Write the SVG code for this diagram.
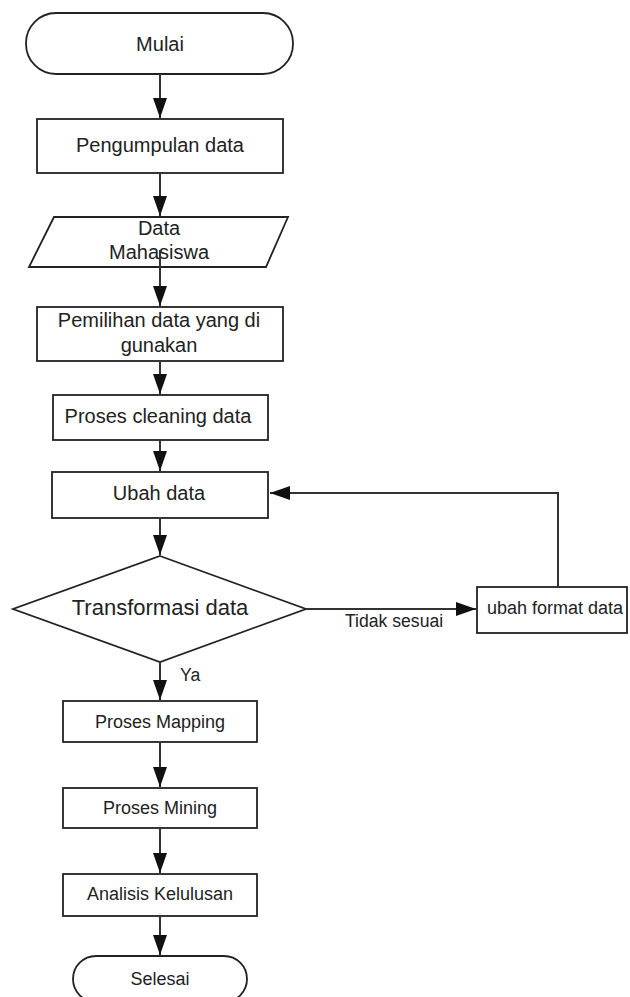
<svg xmlns="http://www.w3.org/2000/svg" width="630" height="997" viewBox="0 0 630 997">
<defs>
<marker id="ah" markerUnits="userSpaceOnUse" markerWidth="20" markerHeight="14" refX="20" refY="7" orient="auto">
<path d="M0,0 L20,7 L0,14 z" fill="#111"/>
</marker>
<style>
.s{fill:#fff;stroke:#222;stroke-width:1.8}
.c{fill:none;stroke:#333;stroke-width:2;marker-end:url(#ah)}
text{font-family:"Liberation Sans",Arial,sans-serif;fill:#222;text-anchor:middle}
.a{font-size:20px}
.b{font-size:18px}
.t{font-size:22px}
.l{font-size:17.6px;text-anchor:start}
</style>
</defs>
<rect width="630" height="997" fill="#fff"/>
<g id="mulai"><rect class="s" x="26" y="13" width="267" height="61" rx="30" ry="30"/><text class="a" x="160" y="51">Mulai</text></g>
<g id="pengumpulan"><rect class="s" x="37" y="119" width="246" height="54"/><text class="a" x="160" y="152">Pengumpulan data</text></g>
<g id="data-mahasiswa"><polygon class="s" points="54,217 288,217 266,267 29,267"/><text class="a" x="159" y="235">Data</text><text class="a" x="159" y="259">Mahasiswa</text></g>
<g id="pemilihan"><rect class="s" x="37" y="307" width="246" height="54"/><text class="a" x="159" y="327">Pemilihan data yang di</text><text class="a" x="159" y="352">gunakan</text></g>
<g id="cleaning"><rect class="s" x="53" y="395" width="215" height="45"/><text class="a" x="158" y="423">Proses cleaning data</text></g>
<g id="ubah-data"><rect class="s" x="52" y="472" width="216" height="46"/><text class="a" x="159" y="500">Ubah data</text></g>
<g id="transformasi"><polygon class="s" points="160,556 306,609 160,662 13,609"/><text class="t" x="160" y="615">Transformasi data</text></g>
<g id="ubah-format"><rect class="s" x="477" y="587" width="150" height="46"/><text class="b" x="555" y="614">ubah format data</text></g>
<g id="mapping"><rect class="s" x="63" y="701" width="194" height="41"/><text class="b" x="160" y="728">Proses Mapping</text></g>
<g id="mining"><rect class="s" x="63" y="788" width="194" height="40"/><text class="b" x="160" y="814">Proses Mining</text></g>
<g id="analisis"><rect class="s" x="63" y="874" width="194" height="42"/><text class="b" x="160" y="900">Analisis Kelulusan</text></g>
<g id="selesai"><rect class="s" x="73" y="956" width="174" height="46" rx="23" ry="23"/><text class="b" x="160" y="985">Selesai</text></g>
<g id="connectors">
<line class="c" x1="160" y1="74" x2="160" y2="118"/>
<line class="c" x1="160" y1="173" x2="160" y2="216"/>
<line class="c" x1="160" y1="250" x2="160" y2="306"/>
<line class="c" x1="160" y1="361" x2="160" y2="394"/>
<line class="c" x1="160" y1="440" x2="160" y2="471"/>
<line class="c" x1="160" y1="518" x2="160" y2="555"/>
<line class="c" x1="160" y1="662" x2="160" y2="700"/>
<line class="c" x1="160" y1="742" x2="160" y2="787"/>
<line class="c" x1="160" y1="828" x2="160" y2="873"/>
<line class="c" x1="160" y1="916" x2="160" y2="955"/>
<line class="c" x1="306" y1="609" x2="476" y2="609"/>
<polyline class="c" points="558,587 558,493 270,493"/>
<text class="l" x="345" y="627">Tidak sesuai</text>
<text class="l" x="180" y="681">Ya</text>
</g>
</svg>
